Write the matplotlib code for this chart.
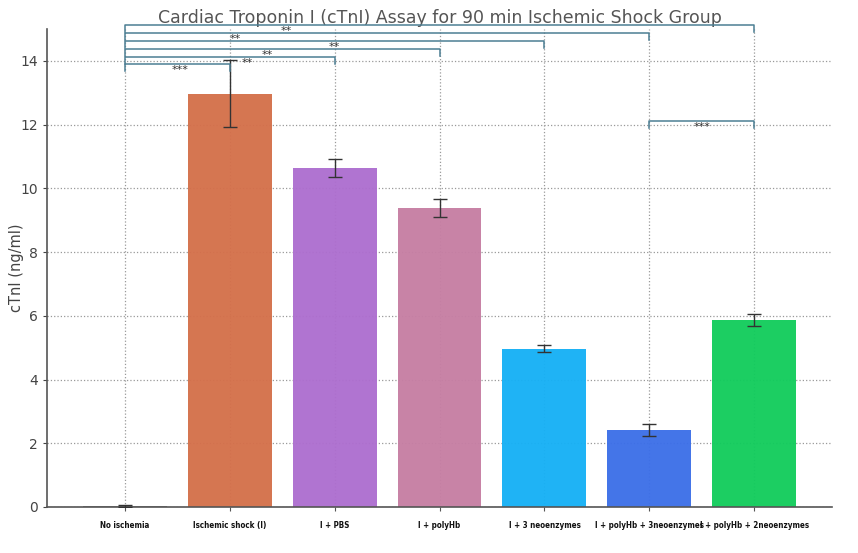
import matplotlib
matplotlib.use("Agg")
import matplotlib.pyplot as plt
from matplotlib import font_manager

categories = ["No ischemia", "Ischemic shock (I)", "I + PBS", "I + polyHb",
              "I + 3 neoenzymes", "I + polyHb + 3neoenzymes", "I + polyHb + 2neoenzymes"]
values = [0.03, 12.97, 10.64, 9.38, 4.97, 2.42, 5.87]
errors = [0.03, 1.05, 0.29, 0.27, 0.11, 0.18, 0.19]
colors = ["#8c8c8c", "#D4704A", "#AD6ECF", "#C67EA3", "#16B0F5", "#3C6FE8", "#12CC5C"]

# significance brackets from group 0 to group j: (target index, bracket height, label, label x)
brk_targets = [1, 2, 3, 4, 5, 6]
brk_heights = [13.9, 14.12, 14.37, 14.63, 14.88, 15.13]
brk_labels = ["***", "**", "**", "**", "**", "**"]
brk_label_x = [0.53, 1.17, 1.36, 2.0, 1.05, 1.54]
brk2_pair = (5, 6)
brk2_height = 12.12
brk2_label = "***"

fig = plt.figure(figsize=(8.58, 5.53), dpi=100)
ax = fig.add_axes([0.0548, 0.0832, 0.9149, 0.8644])

x = list(range(len(categories)))
ax.bar(x, values, width=0.8, color=colors, alpha=0.96, zorder=2)
ax.errorbar(x, values, yerr=errors, fmt="none", ecolor="#333333", elinewidth=1.0,
            capsize=5, capthick=1.0, zorder=3)

ax.set_ylim(0, 15)
ax.set_yticks([0, 2, 4, 6, 8, 10, 12, 14])
ax.grid(True, linestyle=":", color="#999999", linewidth=0.9, zorder=0)
ax.set_axisbelow(True)
for s in ["top", "right"]:
    ax.spines[s].set_visible(False)
for s in ["left", "bottom"]:
    ax.spines[s].set_color("#555555")
    ax.spines[s].set_linewidth(1.2)

ax.tick_params(axis="y", labelsize=10, colors="#444444", length=3)
ax.tick_params(axis="x", length=3, color="#555555", pad=7)
ax.set_xticks(x)

# look for a condensed / narrow bold face
cond = None
for f in font_manager.fontManager.ttflist:
    if ("Narrow" in f.name or "Condensed" in f.name or f.stretch in ("condensed", "semi-condensed")) \
            and f.weight in ("bold", 700):
        cond = f.fname
        break
if cond:
    fp = font_manager.FontProperties(fname=cond, size=5.8)
    ax.set_xticklabels(categories, fontproperties=fp, color="#111111")
else:
    ax.set_xticklabels(categories, fontsize=5.7, fontweight="bold",
                       family=["Liberation Sans", "DejaVu Sans"], color="#111111")

ax.set_ylabel("cTnI (ng/ml)", fontsize=10.5, color="#444444")
ax.yaxis.set_label_coords(-0.029, 0.5)
ax.set_title("Cardiac Troponin I (cTnI) Assay for 90 min Ischemic Shock Group",
             fontsize=12.5, color="#555555", pad=4)

bcol = "#4C7E93"
drop = 0.22
for j, h, lab, lx in zip(brk_targets, brk_heights, brk_labels, brk_label_x):
    ax.plot([0, 0, j, j], [h - drop, h, h, h - drop], color=bcol, lw=1.1,
            clip_on=False, zorder=4)
    ax.text(lx, h - 0.03, lab, ha="center", va="top", fontsize=8, color="#333333",
            clip_on=False)
a, b = brk2_pair
ax.plot([a, a, b, b], [brk2_height - drop, brk2_height, brk2_height, brk2_height - drop],
        color=bcol, lw=1.1, zorder=4)
ax.text((a + b) / 2, brk2_height - 0.03, brk2_label, ha="center", va="top",
        fontsize=8, color="#333333")

fig.savefig("out.png", dpi=100)
